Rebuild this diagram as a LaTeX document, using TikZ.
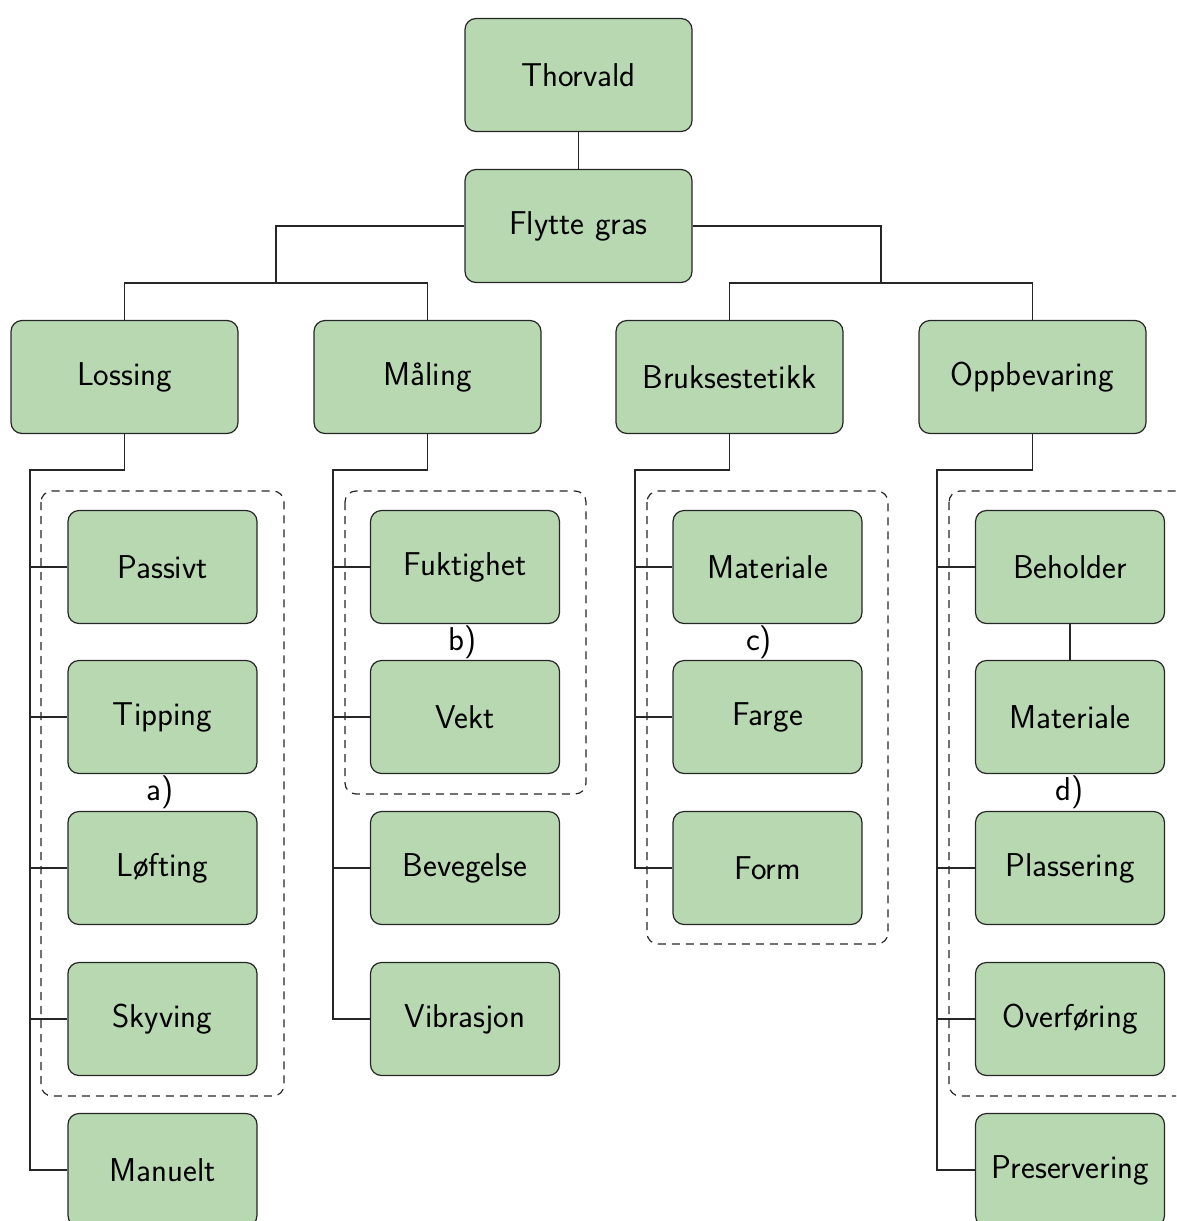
\documentclass[tikz,border=0pt]{standalone}
\usetikzlibrary{positioning}
\definecolor{boxgreen}{RGB}{184,216,177}
\begin{document}
\begin{tikzpicture}[x=1pt,y=-1pt,
  every node/.style={font=\sffamily\fontsize{33}{39}\selectfont},
  topbox/.style={draw=black!85,line width=1.2pt,fill=boxgreen,rounded corners=11pt,minimum width=227pt,minimum height=113pt,inner sep=0pt},
  leafbox/.style={draw=black!85,line width=1.2pt,fill=boxgreen,rounded corners=11pt,minimum width=189pt,minimum height=113pt,inner sep=0pt},
  conn/.style={draw=black!85,line width=1.2pt},
  grp/.style={draw=black!85,line width=1.2pt,dash pattern=on 8pt off 6pt,rounded corners=11pt},
  lab/.style={inner sep=0pt}]
\clip (0,0) rectangle (1176,1221);
\useasboundingbox (0,0) rectangle (1176,1221);
% dashed groups
\draw[grp] (41,491) rectangle (284,1096);
\draw[grp] (345,491) rectangle (586,794);
\draw[grp] (647,491) rectangle (888,944);
\draw[grp] (949,491) rectangle (1191,1096);
% top
\node[topbox] (th) at (578.5,75) {Thorvald};
\node[topbox] (fg) at (578.5,226) {Flytte gras};
\node[topbox] (los) at (124.5,377) {Lossing};
\node[topbox] (mal) at (427.5,377) {Måling};
\node[topbox] (bru) at (729.5,377) {Bruksestetikk};
\node[topbox] (opp) at (1032.5,377) {Oppbevaring};
% column a
\node[leafbox] (pas) at (162.5,567) {Passivt};
\node[leafbox] (tip) at (162.5,717) {Tipping};
\node[leafbox] (lof) at (162.5,868) {Løfting};
\node[leafbox] (sky) at (162.5,1019) {Skyving};
\node[leafbox] (man) at (162.5,1170) {Manuelt};
% column b
\node[leafbox] (fuk) at (465,567) {Fuktighet};
\node[leafbox] (vek) at (465,717) {Vekt};
\node[leafbox] (bev) at (465,868) {Bevegelse};
\node[leafbox] (vib) at (465,1019) {Vibrasjon};
% column c
\node[leafbox] (mat) at (767.5,567) {Materiale};
\node[leafbox] (far) at (767.5,717) {Farge};
\node[leafbox] (for) at (767.5,868) {Form};
% column d
\node[leafbox] (beh) at (1070,567) {Beholder};
\node[leafbox] (mat2) at (1070,717) {Materiale};
\node[leafbox] (pla) at (1070,868) {Plassering};
\node[leafbox] (ove) at (1070,1019) {Overføring};
\node[leafbox] (pre) at (1070,1170) {Preservering};
% labels
\node[lab] (lta) at (160,792) {a)};
\node[lab] (ltb) at (463,642) {b)};
\node[lab] (ltc) at (759,642) {c)};
\node[lab] (ltd) at (1070,792) {d)};
% connectors top
\coordinate (jl) at (276,283);
\coordinate (jr) at (881,283);
\draw[conn] (th) -- (fg);
\draw[conn] (fg.west) -| (jl);
\draw[conn] (fg.east) -| (jr);
\draw[conn] (los.north) |- (jl) -| (mal.north);
\draw[conn] (bru.north) |- (jr) -| (opp.north);
% column connectors
\coordinate (ca) at (30,470);
\coordinate (cb) at (333,470);
\coordinate (cc) at (635,470);
\coordinate (cd) at (937,470);
\foreach \c in {pas,tip,lof,sky,man} \draw[conn] (los.south) |- (ca) |- (\c.west);
\foreach \c in {fuk,vek,bev,vib} \draw[conn] (mal.south) |- (cb) |- (\c.west);
\foreach \c in {mat,far,for} \draw[conn] (bru.south) |- (cc) |- (\c.west);
\foreach \c in {beh,pla,ove,pre} \draw[conn] (opp.south) |- (cd) |- (\c.west);
\draw[conn] (beh) -- (mat2);
\end{tikzpicture}
\end{document}
